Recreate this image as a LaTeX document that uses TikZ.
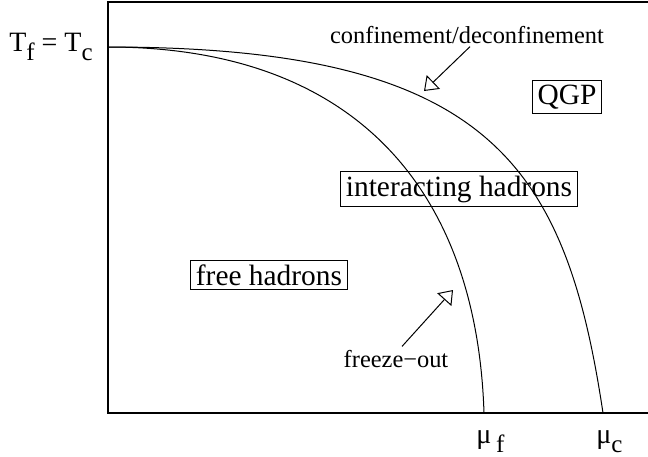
\documentclass[tikz,border=0pt]{standalone}
\usepackage{fontspec}
\setmainfont{Liberation Serif}
\usetikzlibrary{arrows.meta}
% lowered, slightly smaller subscript used in the axis labels
\newcommand\lowsub[1]{\raisebox{-4.5pt}{\fontsize{12.5}{14}\selectfont #1}}
\begin{document}
\begin{tikzpicture}[x=0.5pt,y=-0.5pt,
  region/.style={draw, line width=0.5pt, inner xsep=2.5pt, inner ysep=2.2pt,
    font=\fontsize{14.7}{16}\selectfont},
  note/.style={inner sep=0pt, anchor=base, font=\fontsize{12.2}{14}\selectfont},
  axislabel/.style={inner sep=0pt, font=\fontsize{14}{16}\selectfont},
  phase/.style={line width=0.5pt},
  pointer/.style={line width=0.5pt, -{Triangle[open, length=6.5pt, width=9.5pt]}}]
\useasboundingbox (0,0) rectangle (648,456);

% frame of the (mu, T) plane
\draw[line width=1pt] (648,2) -- (108,2) -- (108,413) -- (648,413);

% freeze-out line
\draw[phase] (108,47) .. controls (358,47) and (477,193) .. (484,413);
% confinement / deconfinement line
\draw[phase] (108,47) .. controls (488,47) and (565.5,163) .. (603,413);

% phase regions
\node[region] (qgp)   at (567,97)  {QGP};
\node[region] (inter) at (459,189) {interacting hadrons};
\node[region] (free)  at (269,275) {free hadrons};

% annotations
\node[note] (conf) at (467,43)  {confinement/deconfinement};
\node[note] (fo)   at (396,367) {freeze−out};
\coordinate (confTip) at (424,91);
\coordinate (foTip)   at (453,290);
\draw[pointer] ([xshift=1.5pt,yshift=-1.5pt]conf.south) -- (confTip);
\draw[pointer] ([xshift=3pt,yshift=1.5pt]fo.north) -- (foTip);

% axis labels
\node[axislabel, anchor=base] (tlab) at (51,51) {T\lowsub{f} = T\lowsub{c}};
\node[axislabel, anchor=base west] (muf) at (476,443) {μ\,\lowsub{f}};
\node[axislabel, anchor=base west] (muc) at (596,443) {μ\lowsub{c}};
\end{tikzpicture}
\end{document}
